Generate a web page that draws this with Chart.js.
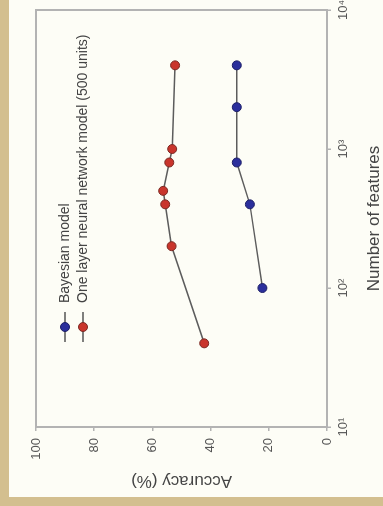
<!doctype html>
<html>
<head>
<script src="https://cdn.jsdelivr.net/npm/chart.js"></script>
<style>
  body { margin: 0; background: #fdfdf6; }
  #frame {
    position: absolute; left: 0; top: 0;
    width: 506px; height: 383px;
    box-sizing: border-box;
    border-top: 9px solid #d3bf8f;
    border-left: 9px solid #d3bf8f;
    background: #fdfdf6;
    transform-origin: 0 0;
    /* the figure is printed turned a quarter turn to the left */
    transform: translate(0, 506px) rotate(-90deg);
  }
  canvas { display: block; }
</style>
</head>
<body>
<div id="frame"><canvas id="chart" width="497" height="374"></canvas></div>
<script>
// values
const featuresBayes = [100, 400, 800, 2000, 4000];
const accuracyBayes = [22.2, 26.5, 31.0, 31.0, 31.0];
const featuresNN = [40, 200, 400, 500, 800, 1000, 4000];
const accuracyNN = [42.2, 53.4, 55.6, 56.3, 54.2, 53.2, 52.2];
const featureTicks = [10, 100, 1000, 10000];
const accuracyTicks = [0, 20, 40, 60, 80, 100];
const seriesNames = ['Bayesian model', 'One layer neural network model (500 units)'];

const sup = { 1: '\u00b9', 2: '\u00b2', 3: '\u00b3', 4: '\u2074' };
const font = 'Liberation Sans';
const axisGray = '#b3b3b3';

function pts(xs, ys) {
  return xs.map((x, i) => ({ x: x, y: ys[i] }));
}

// box round the plot area
const boxPlugin = {
  id: 'box',
  beforeDatasetsDraw(chart) {
    const a = chart.chartArea, ctx = chart.ctx;
    ctx.save();
    ctx.strokeStyle = axisGray;
    ctx.lineWidth = 2;
    ctx.strokeRect(a.left, a.top, a.right - a.left, a.bottom - a.top);
    ctx.restore();
  }
};

// legend inside the plot, top left
const legendPlugin = {
  id: 'innerLegend',
  afterDraw(chart) {
    const ctx = chart.ctx;
    ctx.save();
    chart.data.datasets.forEach((ds, i) => {
      const y = 56 + i * 18;
      ctx.strokeStyle = '#555';
      ctx.lineWidth = 1.5;
      ctx.beginPath();
      ctx.moveTo(155, y);
      ctx.lineTo(185, y);
      ctx.stroke();
      ctx.beginPath();
      ctx.arc(170, y, 4.5, 0, Math.PI * 2);
      ctx.fillStyle = ds.pointBackgroundColor;
      ctx.fill();
      ctx.strokeStyle = ds.pointBorderColor;
      ctx.lineWidth = 1;
      ctx.stroke();
      ctx.fillStyle = '#444';
      ctx.font = '14px "' + font + '"';
      ctx.textBaseline = 'middle';
      ctx.fillText(ds.label, 194, y);
    });
    ctx.restore();
  }
};

new Chart(document.getElementById('chart'), {
  type: 'line',
  data: {
    datasets: [{
      label: seriesNames[0],
      data: pts(featuresBayes, accuracyBayes),
      borderColor: '#5c5c5c',
      borderWidth: 1.5,
      pointRadius: 4.5,
      pointBorderWidth: 1,
      pointBackgroundColor: '#2b2f9c',
      pointBorderColor: '#1d1f66',
      fill: false
    }, {
      label: seriesNames[1],
      data: pts(featuresNN, accuracyNN),
      borderColor: '#5c5c5c',
      borderWidth: 1.5,
      pointRadius: 4.5,
      pointBorderWidth: 1,
      pointBackgroundColor: '#c9352c',
      pointBorderColor: '#7a2a24',
      fill: false
    }]
  },
  options: {
    responsive: false,
    animation: false,
    layout: { padding: { top: 27, right: 10, left: 0, bottom: 0 } },
    plugins: { legend: { display: false }, tooltip: { enabled: false } },
    scales: {
      x: {
        type: 'logarithmic',
        min: 10,
        max: 10000,
        afterBuildTicks(scale) { scale.ticks = featureTicks.map(v => ({ value: v })); },
        afterFit(scale) { scale.height = 56; scale.paddingLeft = 0; scale.paddingRight = 0; },
        border: { display: false },
        grid: { drawOnChartArea: false, color: axisGray, lineWidth: 1.5, tickLength: 4 },
        ticks: {
          color: '#555',
          padding: 5,
          maxRotation: 0,
          autoSkip: false,
          font: { family: font, size: 13 },
          callback: v => '10' + sup[Math.round(Math.log10(v))]
        },
        title: {
          display: true,
          text: 'Number of features',
          color: '#444',
          padding: 0,
          font: { family: font, size: 17, lineHeight: 1 }
        }
      },
      y: {
        min: 0,
        max: 100,
        afterBuildTicks(scale) { scale.ticks = accuracyTicks.map(v => ({ value: v })); },
        afterFit(scale) { scale.width = 70; },
        border: { display: false },
        grid: { drawOnChartArea: false, color: axisGray, lineWidth: 1.5, tickLength: 4 },
        ticks: {
          color: '#555',
          padding: 7,
          font: { family: font, size: 13 }
        },
        title: {
          display: true,
          text: 'Accuracy (%)',
          color: '#444',
          padding: { top: 8, bottom: 0 },
          font: { family: font, size: 17, lineHeight: 1 }
        }
      }
    }
  },
  plugins: [boxPlugin, legendPlugin]
});
</script>
</body>
</html>
